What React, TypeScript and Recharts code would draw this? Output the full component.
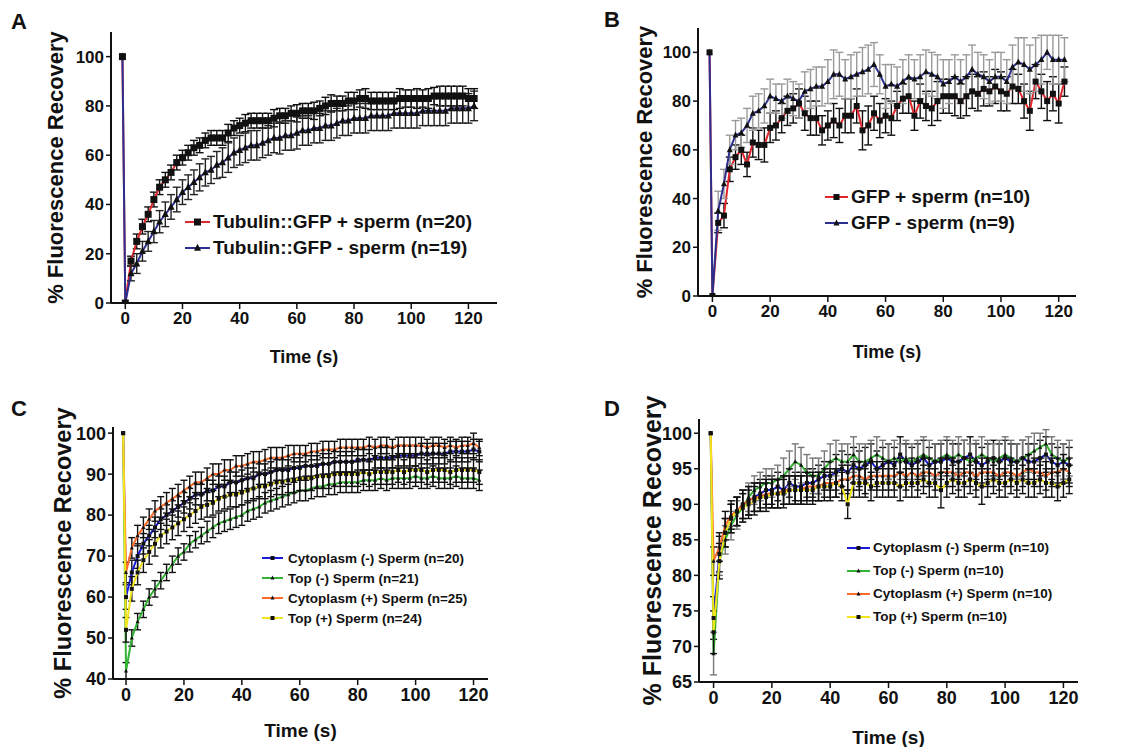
import React from "react";
import { LineChart, Line, XAxis, YAxis, ErrorBar } from "recharts";

const FONT = '"Liberation Sans", Arial, sans-serif';

// sample times (s); -1 is the pre-bleach reading
const time = [
  -1, 0, 2, 4, 6, 8, 10, 12, 14, 16,
  18, 20, 22, 24, 26, 28, 30, 32, 34, 36,
  38, 40, 42, 44, 46, 48, 50, 52, 54, 56,
  58, 60, 62, 64, 66, 68, 70, 72, 74, 76,
  78, 80, 82, 84, 86, 88, 90, 92, 94, 96,
  98, 100, 102, 104, 106, 108, 110, 112, 114, 116,
  118, 120, 122,
];
const xTicks = [0, 20, 40, 60, 80, 100, 120];

// ---- panel A ----
const aPlus = [
  100, 0, 17, 25, 31, 36, 42, 47, 50, 53,
  57, 59, 61, 63, 64, 66, 67, 67, 67, 69,
  71, 72, 73, 74, 74, 74, 74, 75, 76, 76,
  77, 77, 78, 78, 78, 79, 80, 81, 81, 81,
  82, 82, 83, 83, 82, 82, 82, 82, 82, 83,
  83, 83, 83, 83, 83, 84, 84, 84, 84, 84,
  84, 83, 83,
];
const aPlusErr = [
  0, 0, 2, 3, 3, 3, 3, 3, 3, 3,
  3, 3, 3, 3, 3, 3, 3, 3, 3, 3.5,
  3, 3, 3.5, 3, 3, 3, 3, 3.5, 3, 3,
  3, 3.5, 3, 3, 3.5, 3, 3.5, 3.5, 3, 3,
  3.5, 3.5, 3.5, 4, 3.5, 3.5, 3.5, 3.5, 3.5, 4,
  3.5, 3.5, 4, 3.5, 4, 3.5, 4, 4, 4, 4,
  4, 4, 4,
];
const aMinus = [
  100, 0, 12, 16, 21, 25, 29, 33, 36, 39,
  42, 45, 47, 49, 51, 53, 54, 56, 57, 59,
  61, 62, 63, 64, 64, 65, 66, 67, 67, 68,
  68, 69, 70, 70, 71, 71, 72, 72, 73, 74,
  74, 75, 75, 75, 76, 76, 76, 76, 77, 77,
  77, 77, 77, 78, 78, 78, 78, 78, 79, 79,
  79, 79, 80,
];
const aMinusErr = [
  0, 0, 3, 4, 4, 4, 4.5, 4.5, 5, 5,
  5, 5, 5, 5, 5.5, 5.5, 5.5, 5.5, 6, 6,
  6, 6, 6, 6, 6, 6, 6, 6, 6.5, 6,
  6, 6.5, 6, 6, 6, 6, 6, 6, 6, 6,
  6, 6, 6, 6, 6, 6, 6, 6, 6, 6,
  6, 6, 6, 6, 6, 6, 6, 6, 6, 6,
  6, 6, 6,
];

// ---- panel B ----
const bPlus = [
  100, 0, 30, 33, 52, 57, 60, 54, 63, 62,
  62, 69, 70, 73, 76, 77, 79, 75, 73, 73,
  68, 70, 72, 70, 74, 74, 78, 68, 70, 75,
  72, 74, 73, 78, 81, 82, 74, 80, 78, 77,
  80, 82, 82, 82, 80, 82, 84, 83, 85, 84,
  86, 84, 83, 86, 85, 80, 76, 88, 84, 80,
  83, 79, 88,
];
const bPlusErr = [
  0, 0, 4, 5, 5, 5, 6, 5, 6, 6,
  7, 6, 6, 6, 6, 6, 6, 7, 7, 7,
  6, 6, 7, 7, 7, 7, 7, 8, 8, 7,
  7, 7, 7, 6, 6, 7, 6, 7, 6, 7,
  8, 7, 7, 8, 7, 8, 7, 7, 7, 6,
  7, 8, 7, 7, 6, 7, 8, 7, 7, 8,
  7, 8, 6,
];
const bMinus = [
  100, 0, 35, 46, 60, 66, 67, 70, 75, 76,
  78, 82, 81, 80, 82, 81, 80, 84, 85, 86,
  86, 88, 91, 91, 89, 90, 91, 92, 93, 95,
  91, 86, 87, 86, 88, 90, 89, 90, 92, 91,
  90, 87, 88, 90, 88, 90, 93, 91, 90, 88,
  90, 90, 88, 94, 96, 95, 93, 95, 97, 100,
  97, 97, 97,
];
const bMinusErr = [
  0, 0, 8, 6, 6, 6, 6, 7, 7, 7,
  7, 7, 6, 7, 7, 7, 7, 8, 8, 8,
  8, 9, 10, 9, 8, 9, 9, 10, 10, 9,
  8, 9, 8, 8, 9, 9, 8, 9, 9, 9,
  9, 10, 9, 9, 9, 9, 10, 9, 9, 9,
  10, 10, 9, 9, 10, 11, 10, 11, 10, 7,
  10, 10, 9,
];

// ---- panel C ----
const cCytoMinus = [
  100, 60, 66, 70, 73, 75, 77, 79, 80, 81,
  82, 83, 84, 85, 85, 86, 86, 87, 87, 88,
  88, 88.5, 89, 89, 90, 90, 90.5, 91, 91, 91,
  91.5, 91.5, 92, 92, 92, 92.5, 92.5, 93, 93, 93,
  93, 93.5, 93.5, 93.5, 94, 94, 94, 94, 94.5, 94.5,
  94.5, 94.5, 95, 95, 95, 95, 95, 95.5, 95.5, 95.5,
  95.5, 96, 95.5,
];
const cCytoMinusErr = [
  0, 3, 3, 3, 2.5, 2.5, 2.5, 2.5, 2.5, 2.5,
  2.5, 2.5, 2.5, 2.5, 2.5, 2.5, 2.5, 2.5, 2.5, 2.5,
  2.5, 2.5, 2.5, 2.5, 2.5, 2.5, 2.5, 2.5, 2.5, 2.5,
  2.5, 2.5, 2.5, 2.5, 2.5, 2.5, 2.5, 2.5, 2.5, 2.5,
  2.5, 2.5, 2.5, 2.5, 2.5, 2.5, 2.5, 2.5, 2.5, 2.5,
  2.5, 2.5, 2.5, 2.5, 2.5, 2.5, 2.5, 2.5, 2.5, 2.5,
  2.5, 2.5, 2.5,
];
const cTopMinus = [
  100, 42, 50, 54, 57, 60, 62, 64, 66, 68,
  70, 71, 73, 74, 75, 76, 77, 78, 78.5, 79,
  79.5, 80, 81, 81.5, 82, 83, 83.5, 84, 84.5, 85,
  85.5, 86, 86, 86.5, 87, 87, 87.5, 87.5, 88, 88,
  88, 88, 88.5, 88.5, 88.5, 89, 88.5, 89, 89, 89,
  89, 89.5, 89, 89, 89.5, 89, 89, 89, 89.5, 89,
  89, 89, 88.5,
];
const cTopMinusErr = [
  0, 2, 2, 2, 2, 2, 2, 2, 2, 2,
  2, 2, 2, 2, 2, 2.5, 2.5, 2.5, 2.5, 2.5,
  2.5, 2.5, 2.5, 2.5, 2.5, 2.5, 2.5, 2.5, 2.5, 2.5,
  2.5, 2.5, 2.5, 2.5, 2.5, 2.5, 2.5, 2.5, 2.5, 2.5,
  2.5, 2.5, 2.5, 2.5, 2.5, 2.5, 2.5, 2.5, 2.5, 2.5,
  2.5, 2.5, 2.5, 2.5, 2.5, 2.5, 2.5, 2.5, 2.5, 2.5,
  2.5, 2.5, 2.5,
];
const cCytoPlus = [
  100, 66, 72, 75, 77, 79, 81, 82, 83, 84,
  85, 86, 87, 88, 88, 89, 90, 90, 91, 91,
  92, 92, 92.5, 93, 93, 93.5, 94, 94, 94, 94.5,
  95, 95, 95, 95.5, 95.5, 96, 96, 96, 96.5, 96.5,
  96.5, 96.5, 96.5, 97, 96.5, 97, 97, 96.5, 97, 97,
  97, 97, 97, 96.5, 97, 97, 96.5, 97, 96.5, 97,
  97, 97.5, 96.5,
];
const cCytoPlusErr = [
  0, 2.5, 2.5, 2.5, 2.5, 2.5, 2.5, 2.5, 2.5, 2.5,
  2.5, 2.5, 2.5, 2.5, 2.5, 2.5, 2.5, 2.5, 2.5, 2.5,
  2.5, 2.5, 2.5, 2.5, 2.5, 2.5, 2.5, 2.5, 2.5, 2.5,
  2, 2, 2, 2, 2, 2, 2, 2, 2, 2,
  2, 2, 2, 2, 2, 2, 2, 2, 2, 2,
  2, 2, 2, 2, 2, 2, 2, 2, 2, 2,
  2, 2.5, 2,
];
const cTopPlus = [
  100, 52, 62, 66, 69, 71, 73, 75, 76, 77,
  78, 79, 80, 81, 82, 82.5, 83, 84, 84.5, 85,
  85, 85.5, 86, 86.5, 87, 87, 87.5, 88, 88, 88.5,
  88.5, 89, 89, 89, 89.5, 89.5, 89.5, 90, 90, 90,
  90, 90, 90.5, 90, 90.5, 90.5, 90.5, 90.5, 91, 90.5,
  91, 91, 91, 90.5, 91, 91, 91, 90.5, 91, 91,
  91, 91, 90.5,
];
const cTopPlusErr = [
  0, 3, 3, 3, 3, 3, 3, 3, 3, 3,
  3, 3, 3, 3, 3, 3, 3, 3, 3, 3,
  3, 3, 3, 3, 3, 3, 3, 3, 3, 3,
  3, 3, 3, 3, 3, 3, 3, 3, 3, 3,
  3, 3, 3, 3, 3, 3, 3, 3, 3, 3,
  3, 3, 3, 3, 3, 3, 3, 3, 3, 3,
  3, 3, 3,
];

// ---- panel D ----
const dCytoMinus = [
  100, 74, 83, 86, 88, 89, 90, 90.5, 91, 91.5,
  92, 92, 92.5, 92, 93, 92.5, 92.5, 93, 93, 93.5,
  94, 94, 94.5, 95, 94.5, 95.5, 95, 95.5, 96, 95,
  95.5, 96, 95.5, 97, 96, 95.5, 96, 96.5, 95.5, 96,
  96, 96.5, 96, 96, 96.5, 97, 96, 95.5, 96, 96.5,
  96, 96.5, 96, 96, 96.5, 96, 96, 96.5, 97, 96,
  95.5, 96, 95.5,
];
const dCytoMinusErr = [
  0, 3, 2.5, 2, 2, 2, 2, 2, 2, 2,
  2, 2, 2, 2, 2, 2, 2, 2, 2, 2,
  2, 2, 2.5, 2.5, 2.5, 2.5, 2.5, 2.5, 2.5, 2.5,
  2.5, 2.5, 2.5, 2.5, 2.5, 2.5, 2.5, 2.5, 2.5, 2.5,
  2.5, 2.5, 2.5, 2.5, 2.5, 2.5, 2.5, 2.5, 2.5, 2.5,
  2.5, 2.5, 2.5, 2.5, 2.5, 2.5, 2.5, 2.5, 2.5, 2.5,
  2.5, 2.5, 2.5,
];
const dTopMinus = [
  100, 69, 82, 85, 87, 88.5, 89.5, 91, 92, 92.5,
  93, 93, 93.5, 94, 95, 96, 95.5, 94.5, 94, 94,
  95, 96, 96.5, 96, 96, 97, 96, 96, 96.5, 97,
  96.5, 96, 96.5, 96, 96.5, 96, 96.5, 97, 96.5, 96,
  96.5, 97, 96.5, 97, 96.5, 96, 96.5, 97, 96.5, 96,
  96.5, 97, 96.5, 96, 96.5, 97, 97.5, 98, 98.5, 97,
  96.5, 96, 96.5,
];
const dTopMinusErr = [
  0, 3, 2, 2, 2, 2, 2, 2, 2, 2,
  2, 2, 2, 2.5, 2.5, 2.5, 2.5, 2.5, 2.5, 2.5,
  2.5, 2.5, 2.5, 2.5, 2.5, 2.5, 2.5, 2.5, 2.5, 2.5,
  2.5, 2.5, 2.5, 2.5, 2.5, 2.5, 2.5, 2.5, 2.5, 2.5,
  2.5, 2.5, 2.5, 2.5, 2.5, 2.5, 2.5, 2.5, 2.5, 2.5,
  2.5, 2.5, 2.5, 2.5, 2.5, 2.5, 2.5, 2, 2, 2.5,
  2.5, 2.5, 2.5,
];
const dCytoPlus = [
  100, 82, 84, 87, 88.5, 89, 90, 90.5, 91, 91,
  91.5, 91.5, 91.5, 92, 92, 92, 92, 92.5, 92.5, 92.5,
  93, 93, 93, 93.5, 93.5, 94, 94, 93.5, 94, 94,
  94, 94, 94, 94.5, 94, 94.5, 94, 94.5, 94.5, 94,
  94.5, 94.5, 94.5, 94, 94.5, 94.5, 94, 94.5, 94.5, 94.5,
  94, 94.5, 94.5, 94, 94.5, 95, 94.5, 94.5, 94, 94.5,
  94.5, 95, 94.5,
];
const dCytoPlusErr = [
  0, 2, 2, 2, 2, 2, 2, 2, 2, 2,
  2, 2, 2, 2, 2, 2, 2, 2, 2, 2,
  2, 2, 2, 2, 2, 2, 2, 2, 2, 2,
  2, 2, 2, 2, 2, 2, 2, 2, 2, 2,
  2, 2, 2, 2, 2, 2, 2, 2, 2, 2,
  2, 2, 2, 2, 2, 2, 2, 2, 2, 2,
  2, 2, 2,
];
const dTopPlus = [
  100, 72, 82, 86, 88, 89, 89.5, 90, 90.5, 91,
  91, 91.5, 91.5, 91.5, 92, 92, 92, 92, 92, 92.5,
  92.5, 92.5, 93, 92.5, 90, 93, 93, 93, 92.5, 93,
  93, 93, 93, 92.5, 93, 93, 93, 93.5, 93, 93,
  92, 93, 93.5, 93, 93, 93.5, 93, 92.5, 93, 93.5,
  93, 93, 93.5, 93, 93.5, 93, 93, 93.5, 93, 93,
  92.5, 93, 93.5,
];
const dTopPlusErr = [
  0, 3, 2.5, 2, 2, 2, 2, 2, 2, 2,
  2, 2, 2, 2, 2, 2, 2, 2, 2, 2,
  2, 2, 2, 2, 2, 2, 2, 2, 2, 2,
  2, 2, 2, 2, 2, 2, 2, 2, 2, 2,
  2.5, 2, 2, 2, 2, 2, 2, 2.5, 2, 2,
  2, 2, 2, 2, 2, 2, 2, 2, 2, 2,
  2, 2, 2,
];

type Mark = "square" | "triangle";
interface Series {
  key: string;
  name: string;
  color: string;
  mark: Mark;
  values: number[];
  errors: number[];
  errColor: string;
}

const RED = "#e3262b";
const NAVY = "#2d2f8e";
const BLUE = "#1b1bdc";
const GREEN = "#33b233";
const ORANGE = "#ff6b2b";
const YELLOW = "#f2e51c";

const seriesA: Series[] = [
  { key: "plus", name: "Tubulin::GFP + sperm (n=20)", color: RED, mark: "square", values: aPlus, errors: aPlusErr, errColor: "#111" },
  { key: "minus", name: "Tubulin::GFP - sperm (n=19)", color: NAVY, mark: "triangle", values: aMinus, errors: aMinusErr, errColor: "#222" },
];
const seriesB: Series[] = [
  { key: "plus", name: "GFP + sperm (n=10)", color: RED, mark: "square", values: bPlus, errors: bPlusErr, errColor: "#111" },
  { key: "minus", name: "GFP - sperm (n=9)", color: NAVY, mark: "triangle", values: bMinus, errors: bMinusErr, errColor: "#9a9a9a" },
];
const seriesC: Series[] = [
  { key: "cm", name: "Cytoplasm (-) Sperm (n=20)", color: BLUE, mark: "square", values: cCytoMinus, errors: cCytoMinusErr, errColor: "#111" },
  { key: "tm", name: "Top (-) Sperm (n=21)", color: GREEN, mark: "triangle", values: cTopMinus, errors: cTopMinusErr, errColor: "#111" },
  { key: "cp", name: "Cytoplasm (+) Sperm (n=25)", color: ORANGE, mark: "triangle", values: cCytoPlus, errors: cCytoPlusErr, errColor: "#111" },
  { key: "tp", name: "Top (+) Sperm (n=24)", color: YELLOW, mark: "square", values: cTopPlus, errors: cTopPlusErr, errColor: "#111" },
];
const seriesD: Series[] = [
  { key: "cm", name: "Cytoplasm (-) Sperm (n=10)", color: BLUE, mark: "square", values: dCytoMinus, errors: dCytoMinusErr, errColor: "#111" },
  { key: "tm", name: "Top (-) Sperm (n=10)", color: GREEN, mark: "triangle", values: dTopMinus, errors: dTopMinusErr, errColor: "#777" },
  { key: "cp", name: "Cytoplasm (+) Sperm (n=10)", color: ORANGE, mark: "triangle", values: dCytoPlus, errors: dCytoPlusErr, errColor: "#111" },
  { key: "tp", name: "Top (+) Sperm (n=10)", color: YELLOW, mark: "square", values: dTopPlus, errors: dTopPlusErr, errColor: "#111" },
];

function markShape(mark: Mark, size: number, cx: number, cy: number, key?: any) {
  if (mark === "square") {
    return <rect key={key} x={cx - size / 2} y={cy - size / 2} width={size} height={size} fill="#111" />;
  }
  const d = `M${cx},${cy - size * 0.6}L${cx + size / 2},${cy + size * 0.4}L${cx - size / 2},${cy + size * 0.4}Z`;
  return <path key={key} d={d} fill="#111" />;
}

const makeDot = (mark: Mark, size: number) => (p: any) => {
  if (p.cx == null || p.cy == null) return <g key={p.index} />;
  return markShape(mark, size, p.cx, p.cy, p.index);
};

interface PanelCfg {
  left: number;
  top: number;
  width: number;
  height: number;
  margin: { top: number; right: number; bottom: number; left: number };
  yWidth: number;
  xHeight: number;
  xDomain: [number, number];
  yDomain: [number, number];
  yTicks: number[];
  tickFont: number;
  titleFont: number;
  titleOffset: number;
  yLabelX: number;
  yLabelFont: number;
  mark: number;
  cap: number;
  series: Series[];
  legend: { left: number; top: number; rowH: number; font: number; lineW: number; gap: number };
}

function Panel({ cfg }: { cfg: PanelCfg }) {
  const rows = time.map((t, i) => {
    const r: Record<string, number> = { t };
    cfg.series.forEach((s) => {
      r[s.key] = s.values[i];
      r[s.key + "E"] = s.errors[i];
    });
    return r;
  });
  const tick = { fill: "#111", fontSize: cfg.tickFont, fontWeight: "bold", fontFamily: FONT };
  const lg = cfg.legend;

  return (
    <div style={{ position: "absolute", left: cfg.left, top: cfg.top, width: cfg.width, height: cfg.height }}>
      <LineChart width={cfg.width} height={cfg.height} data={rows} margin={cfg.margin}>
        <XAxis
          type="number"
          dataKey="t"
          domain={cfg.xDomain}
          ticks={xTicks}
          allowDataOverflow
          height={cfg.xHeight}
          tick={tick}
          tickSize={6}
          tickMargin={3}
          axisLine={{ stroke: "#111", strokeWidth: 2 }}
          tickLine={{ stroke: "#111", strokeWidth: 1.5 }}
          label={{
            value: "Time (s)",
            position: "insideBottom",
            offset: cfg.titleOffset,
            style: { fill: "#111", fontSize: cfg.titleFont, fontWeight: "bold", fontFamily: FONT },
          }}
        />
        <YAxis
          type="number"
          domain={cfg.yDomain}
          ticks={cfg.yTicks}
          allowDataOverflow
          width={cfg.yWidth}
          tick={tick}
          tickSize={5}
          tickMargin={2}
          axisLine={{ stroke: "#111", strokeWidth: 2 }}
          tickLine={{ stroke: "#111", strokeWidth: 1.5 }}
          label={{
            value: "% Fluorescence Recovery",
            angle: -90,
            position: "insideLeft",
            offset: cfg.yLabelX,
            style: { textAnchor: "middle", fill: "#111", fontSize: cfg.yLabelFont, fontWeight: "bold", fontFamily: FONT },
          }}
        />
        {cfg.series.map((s) => (
          <Line
            key={s.key}
            type="linear"
            dataKey={s.key}
            name={s.name}
            stroke={s.color}
            strokeWidth={2}
            dot={makeDot(s.mark, cfg.mark)}
            activeDot={false}
            isAnimationActive={false}
          >
            <ErrorBar dataKey={s.key + "E"} width={cfg.cap} stroke={s.errColor} strokeWidth={1.4} direction="y" />
          </Line>
        ))}
      </LineChart>
      <div
        style={{
          position: "absolute",
          left: lg.left,
          top: lg.top,
          fontFamily: FONT,
          fontWeight: "bold",
          fontSize: lg.font,
          color: "#111",
          whiteSpace: "nowrap",
        }}
      >
        {cfg.series.map((s) => (
          <div key={s.key} style={{ display: "flex", alignItems: "center", height: lg.rowH }}>
            <svg width={lg.lineW} height={12} style={{ display: "block" }}>
              <line x1={0} y1={6} x2={lg.lineW} y2={6} stroke={s.color} strokeWidth={2} />
              {markShape(s.mark, cfg.mark, lg.lineW / 2, 6)}
            </svg>
            <span style={{ marginLeft: lg.gap }}>{s.name}</span>
          </div>
        ))}
      </div>
    </div>
  );
}

const panelA: PanelCfg = {
  left: 0, top: 0, width: 560, height: 370,
  margin: { top: 32, right: 63, bottom: 5, left: 0 },
  yWidth: 111, xHeight: 62,
  xDomain: [-5, 130], yDomain: [0, 110], yTicks: [0, 20, 40, 60, 80, 100],
  tickFont: 17, titleFont: 18, titleOffset: 2, yLabelX: 55, yLabelFont: 22,
  mark: 7, cap: 4, series: seriesA,
  legend: { left: 185, top: 209, rowH: 26, font: 19, lineW: 25, gap: 3 },
};
const panelB: PanelCfg = {
  left: 560, top: 0, width: 561, height: 370,
  margin: { top: 28, right: 45, bottom: 5, left: 0 },
  yWidth: 138, xHeight: 69,
  xDomain: [-5, 126], yDomain: [0, 110], yTicks: [0, 20, 40, 60, 80, 100],
  tickFont: 17, titleFont: 18, titleOffset: 7, yLabelX: 84, yLabelFont: 22,
  mark: 6, cap: 4, series: seriesB,
  legend: { left: 265, top: 184, rowH: 26, font: 19, lineW: 23, gap: 3 },
};
const panelC: PanelCfg = {
  left: 0, top: 370, width: 560, height: 377,
  margin: { top: 57, right: 72, bottom: 5, left: 0 },
  yWidth: 113, xHeight: 63,
  xDomain: [-4.5, 125], yDomain: [40, 101.5], yTicks: [40, 50, 60, 70, 80, 90, 100],
  tickFont: 18, titleFont: 19, titleOffset: 5, yLabelX: 63, yLabelFont: 23.5,
  mark: 4, cap: 3.5, series: seriesC,
  legend: { left: 262, top: 178, rowH: 20, font: 13.5, lineW: 21, gap: 5 },
};
const panelD: PanelCfg = {
  left: 560, top: 370, width: 561, height: 377,
  margin: { top: 49, right: 43, bottom: 0, left: 0 },
  yWidth: 139, xHeight: 65,
  xDomain: [-5, 125], yDomain: [65, 102], yTicks: [65, 70, 75, 80, 85, 90, 95, 100],
  tickFont: 18, titleFont: 19, titleOffset: 3, yLabelX: 92, yLabelFont: 25,
  mark: 4, cap: 3.5, series: seriesD,
  legend: { left: 287, top: 166, rowH: 23, font: 13.5, lineW: 23, gap: 3 },
};

const letters = [
  { text: "A", left: 11, top: 11 },
  { text: "B", left: 604, top: 9 },
  { text: "C", left: 11, top: 398 },
  { text: "D", left: 604, top: 398 },
];

export default function App() {
  return (
    <div style={{ position: "absolute", left: 0, top: 0, width: 1121, height: 747, background: "#fff", overflow: "hidden" }}>
      <Panel cfg={panelA} />
      <Panel cfg={panelB} />
      <Panel cfg={panelC} />
      <Panel cfg={panelD} />
      {letters.map((l) => (
        <div
          key={l.text}
          style={{ position: "absolute", left: l.left, top: l.top, fontFamily: FONT, fontWeight: "bold", fontSize: 22, color: "#111", lineHeight: 1 }}
        >
          {l.text}
        </div>
      ))}
    </div>
  );
}
